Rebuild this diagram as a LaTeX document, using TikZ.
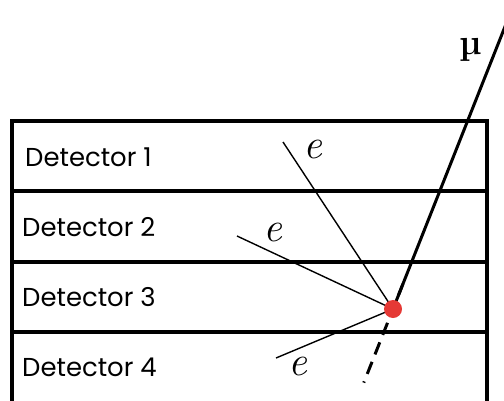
\documentclass[tikz,border=0pt]{standalone}
\usepackage{fontspec}
\newfontfamily\detfont{Poppins}
\usepackage{xcolor}
\usetikzlibrary{positioning, calc}
\definecolor{hitred}{HTML}{E53935}

\begin{document}
\begin{tikzpicture}[
  x=1bp, y=1bp,
  frame/.style={line width=3.3bp},
  det/.style={anchor=base west, inner sep=0pt, font=\detfont\fontsize{26}{26}\selectfont},
  muon/.style={line width=3bp},
  elec/.style={line width=1.4bp},
  lbl/.style={inner sep=0pt, font=\fontsize{42}{42}\selectfont\itshape},
  hit/.style={circle, fill=hitred, minimum size=18bp, inner sep=0pt}
]
\useasboundingbox (0,0) rectangle (504,400);

% ── Detector stack ──
\draw[frame] (12,-10) -- (12,279) -- (487,279) -- (487,-10);
\foreach \y in {209,138,68}
  \draw[frame] (12,\y) -- (487,\y);

\node[det] (det1) at (25,234) {Detector 1};
\node[det] (det2) at (22,164) {Detector 2};
\node[det] (det3) at (22,94) {Detector 3};
\node[det] (det4) at (22,24) {Detector 4};

% ── Interaction point ──
\coordinate (vtx) at (393,91);
\coordinate (mutop) at (508,381);
\coordinate (e1end) at (283,258);
\coordinate (e2end) at (237,164);
\coordinate (e3end) at (276,42);

% ═══ TRACKS ═══
\draw[muon] (vtx) -- (mutop);
\draw[muon, dash pattern=on 13bp off 8bp] ($(vtx)!0.087!(mutop)$) -- ($(vtx)!-0.254!(mutop)$);
\draw[elec] (vtx) -- (e1end);
\draw[elec] (vtx) -- (e2end);
\draw[elec] (vtx) -- (e3end);

\node[hit] (hit) at (vtx) {};

% labels
\node[lbl, font=\fontsize{36}{36}\selectfont\bfseries] (mu) at (471,350) {µ};
\node[lbl] (e1) at (313,251) {e};
\node[lbl] (e2) at (273,168) {e};
\node[lbl] (e3) at (298,34) {e};

\end{tikzpicture}
\end{document}
